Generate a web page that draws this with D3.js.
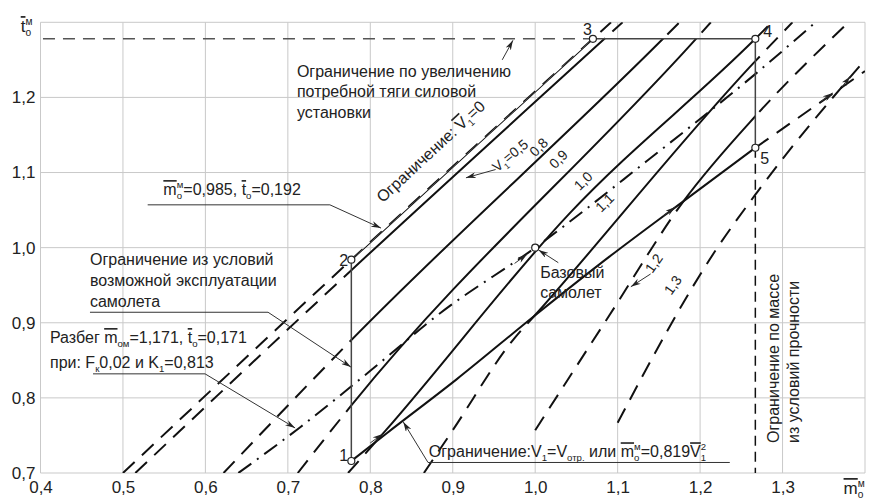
<!DOCTYPE html>
<html>
<head>
<meta charset="utf-8">
<script src="https://cdn.jsdelivr.net/npm/d3@7/dist/d3.min.js"></script>
<style>
  body { margin: 0; background: #fff; }
  svg { display: block; font-family: "Liberation Sans", Arial, sans-serif; }
</style>
</head>
<body>
<div id="chart"></div>
<script>
var xTicks = [0.4, 0.5, 0.6, 0.7, 0.8, 0.9, 1.0, 1.1, 1.2, 1.3]
var yTicks = [0.7, 0.8, 0.9, 1.0, 1.1, 1.2]

// lines V1 = const, points (m, t)
var v1Names = ["0", "0,5", "0,8", "0,9", "1,0", "1,1", "1,2", "1,3"]
var v1Lines = [
  [[0.5, 0.7], [0.777, 0.984], [1.07, 1.278], [1.092, 1.3]],
  [[0.515, 0.7], [0.777, 0.97], [1.084, 1.278], [1.106, 1.3]],
  [[0.622, 0.7], [0.777, 0.877], [1.155, 1.278], [1.175, 1.3]],
  [[0.712, 0.7], [0.777, 0.79], [1.195, 1.278], [1.213, 1.3]],
  [[0.773, 0.7], [0.819, 0.757], [1.042, 1.046], [1.267, 1.278], [1.287, 1.3]],
  [[0.865, 0.7], [0.9, 0.757], [0.973, 0.877], [1.003, 0.914], [1.265, 1.246], [1.312, 1.3]],
  [[1.0, 0.757], [1.09, 0.91], [1.18, 1.062], [1.267, 1.175], [1.38, 1.3]],
  [[1.1, 0.767], [1.221, 1.0], [1.27, 1.075], [1.4, 1.25]]
]

// limit V1 = Vотр, and its dashed continuation past point 5
var limitCurve = [[0.777, 0.716], [0.82, 0.753], [0.905, 0.825], [1.0, 0.91], [1.09, 0.988], [1.18, 1.062], [1.267, 1.133]]
var limitTail = [[1.267, 1.133], [1.4, 1.235]]
// base aircraft line (dash-dot)
var baseCurve = [[0.64, 0.7], [0.715, 0.761], [0.8, 0.836], [0.885, 0.913], [1.0, 1.0], [1.135, 1.115], [1.269, 1.233], [1.34, 1.3]]

var pointNames = ["1", "2", "3", "4", "5"]
var pointM = [0.777, 0.777, 1.07, 1.267, 1.267]
var pointT = [0.716, 0.984, 1.278, 1.278, 1.133]
var tLimit = 1.278
var basePoint = [1.0, 1.0]

var width = 869, height = 500

var x = d3.scaleLinear().domain([0.4, 1.4]).range([40.5, 865])
var y = d3.scaleLinear().domain([0.7, 1.3]).range([473, 22.3])

var svg = d3.select("#chart").append("svg")
  .attr("width", width).attr("height", height)

var defs = svg.append("defs")
defs.append("marker")
  .attr("id", "arr")
  .attr("viewBox", "0 0 10 6")
  .attr("refX", 10).attr("refY", 3)
  .attr("markerWidth", 10).attr("markerHeight", 6)
  .attr("markerUnits", "userSpaceOnUse")
  .attr("orient", "auto")
  .append("path").attr("d", "M0,0 L10,3 L0,6 L3,3 z").attr("fill", "#222")

var line = d3.line().x(function(d) { return x(d[0]) }).y(function(d) { return y(d[1]) })
var smooth = d3.line().curve(d3.curveMonotoneX).x(function(d) { return x(d[0]) }).y(function(d) { return y(d[1]) })

// feasible region: 1-2-3-4-5 and back along the limit curve
var region = [[pointM[0], pointT[0]], [pointM[1], pointT[1]], [pointM[2], pointT[2]], [pointM[3], pointT[3]], [pointM[4], pointT[4]]]
  .concat(limitCurve.slice().reverse())
var regionPath = line(region) + "Z"

defs.append("clipPath").attr("id", "inside").append("path").attr("d", regionPath)
defs.append("clipPath").attr("id", "outside").append("path")
  .attr("clip-rule", "evenodd")
  .attr("d", "M" + x(0.4) + "," + y(1.3) + "H" + x(1.4) + "V" + y(0.7) + "H" + x(0.4) + "Z" + regionPath)
defs.append("clipPath").attr("id", "plot").append("rect")
  .attr("x", x(0.4)).attr("y", y(1.3)).attr("width", x(1.4) - x(0.4)).attr("height", y(0.7) - y(1.3))

/* ------- GRID -------*/
var grid = svg.append("g").attr("stroke", "#c9c9c9").attr("stroke-width", 1)
grid.selectAll("line.v").data(xTicks.concat([1.4])).enter().append("line")
  .attr("x1", function(d) { return x(d) }).attr("x2", function(d) { return x(d) })
  .attr("y1", y(0.7)).attr("y2", y(1.3))
grid.selectAll("line.h").data(yTicks.concat([1.3])).enter().append("line")
  .attr("x1", x(0.4)).attr("x2", x(1.4))
  .attr("y1", function(d) { return y(d) }).attr("y2", function(d) { return y(d) })

/* ------- AXES -------*/
var fmt = function(d) { return d3.format(".1f")(d).replace(".", ",") }
svg.append("g").attr("transform", "translate(0," + y(0.7) + ")")
  .call(d3.axisBottom(x).tickValues(xTicks).tickSize(0).tickPadding(8).tickFormat(fmt))
svg.append("g").attr("transform", "translate(" + x(0.4) + ",0)")
  .call(d3.axisLeft(y).tickValues(yTicks).tickSize(0).tickPadding(5).tickFormat(fmt))
svg.selectAll(".domain").remove()
svg.selectAll(".tick text").attr("font-size", 17).attr("fill", "#222")
  .attr("font-family", "Liberation Sans, Arial, sans-serif")

/* ------- CURVES -------*/
var curves = svg.append("g").attr("fill", "none").attr("stroke", "#111").attr("stroke-width", 2)

curves.selectAll("path.dash").data(v1Lines).enter().append("path")
  .attr("d", smooth)
  .attr("clip-path", "url(#outside)")
  .attr("stroke-dasharray", "16,10")

curves.selectAll("path.solid").data(v1Lines).enter().append("path")
  .attr("d", smooth)
  .attr("clip-path", "url(#inside)")

curves.append("path").attr("d", smooth(limitCurve))
curves.append("path").attr("d", line(limitTail)).attr("stroke-dasharray", "16,10").attr("clip-path", "url(#plot)")
curves.append("path").attr("d", smooth(baseCurve))
  .attr("stroke-dasharray", "16,7,2,7").attr("clip-path", "url(#plot)")

// frame of the feasible zone
var frame = svg.append("g").attr("fill", "none").attr("stroke", "#444").attr("stroke-width", 1.5)
frame.append("path").attr("d", line([[pointM[0], pointT[0]], [pointM[1], pointT[1]]]))
frame.append("path").attr("d", line([[pointM[2], pointT[2]], [pointM[3], pointT[3]], [pointM[4], pointT[4]]]))
frame.append("path").attr("d", line([[pointM[4], pointT[4]], [pointM[4], 0.7]]))
  .attr("stroke", "#111").attr("stroke-dasharray", "10,6")
frame.append("path").attr("d", line([[0.403, tLimit], [pointM[2], tLimit]]))
  .attr("stroke", "#555").attr("stroke-dasharray", "12,8")

/* ------- POINTS -------*/
svg.append("g").selectAll("circle")
  .data(pointM.map(function(m, i) { return [m, pointT[i]] }).concat([basePoint]))
  .enter().append("circle")
  .attr("cx", function(d) { return x(d[0]) }).attr("cy", function(d) { return y(d[1]) })
  .attr("r", 3.5).attr("fill", "#fff").attr("stroke", "#222").attr("stroke-width", 1.2)

var pointOffsets = [[-12, 0], [-12, 6], [-10, -4], [8, -2], [5, 16]]
svg.append("g").selectAll("text").data(pointNames).enter().append("text")
  .attr("x", function(d, i) { return x(pointM[i]) + pointOffsets[i][0] })
  .attr("y", function(d, i) { return y(pointT[i]) + pointOffsets[i][1] })
  .attr("font-size", 16).attr("fill", "#222")
  .text(function(d) { return d })

/* ------- RICH TEXT -------*/
// parts: [text, kind] with kind "", "over", "sub", "sup" or "sup2" (sup stacked over the previous sub)
function rich(g, parts, size) {
  var t = g.append("text").attr("font-size", size).attr("fill", "#222")
  var shift = 0, lastSub = 0
  parts.forEach(function(p) {
    var kind = p[1] || ""
    var small = kind === "sub" || kind === "sup" || kind === "sup2"
    var target = kind === "sub" ? 4 : small ? -7 : 0
    var ts = t.append("tspan").text(p[0]).attr("dy", target - shift)
    shift = target
    if (small) ts.attr("font-size", size * 0.6)
    if (kind === "sup2") ts.attr("dx", -lastSub)
    if (kind === "sub") lastSub = p[0].length * size * 0.6 * 0.55
    if (kind === "over") ts.style("text-decoration", "overline")
  })
  return t
}

function note(mx, ty, parts, size, rot) {
  var g = svg.append("g").attr("transform", "translate(" + x(mx) + "," + y(ty) + ")" + (rot ? " rotate(" + rot + ")" : ""))
  rich(g, parts, size || 16)
  return g
}

function leader(pts, arrow) {
  var p = svg.append("path").attr("d", line(pts)).attr("fill", "none")
    .attr("stroke", "#333").attr("stroke-width", 1)
  if (arrow) p.attr("marker-end", "url(#arr)")
}

function lineAngle(l) {
  var a = l[0], b = l[l.length - 1]
  return Math.atan2(y(b[1]) - y(a[1]), x(b[0]) - x(a[0])) * 180 / Math.PI
}

// direction arrows sitting on the curves
var arrowMarks = [
  [[0.8, 0.74], [0.815, 0.752]],
  [[1.155, 1.042], [1.17, 1.054]],
  [[0.975, 0.979], [0.99, 0.991]],
  [[1.346, 1.194], [1.361, 1.206]],
  [[1.372, 1.214], [1.382, 1.228]]
]
arrowMarks.forEach(function(a) { leader(a, true) })

// axis titles
note(0.376, 1.287, [["t", "over"], ["о", "sub"], ["м", "sup2"]], 17)
note(1.374, 0.672, [["m", "over"], ["о", "sub"], ["м", "sup2"]], 17)

// thrust limit
note(0.711, 1.227, [["Ограничение по увеличению"]])
note(0.711, 1.2, [["потребной тяги силовой"]])
note(0.711, 1.173, [["установки"]])
leader([[0.96, 1.25], [0.973, 1.276]], true)

// point 2 data
note(0.549, 1.07, [["m", "over"], ["о", "sub"], ["м", "sup2"], ["=0,985, "], ["t", "over"], ["о", "sub"], ["=0,192"]])
leader([[0.53, 1.057], [0.751, 1.057], [0.813, 1.026]], true)

// operation limit
note(0.46, 0.977, [["Ограничение из условий"]])
note(0.46, 0.949, [["возможной эксплуатации"]])
note(0.46, 0.921, [["самолета"]])
leader([[0.46, 0.914], [0.676, 0.914], [0.7765, 0.841]], true)

// take-off run
note(0.4115, 0.873, [["Разбег "], ["m", "over"], ["ом", "sub"], ["=1,171, "], ["t", "over"], ["о", "sub"], ["=0,171"]])
note(0.4115, 0.84, [["при: F"], ["к", "sub"], ["0,02 и K"], ["1", "sub"], ["=0,813"]])
leader([[0.4637, 0.832], [0.5996, 0.832], [0.7088, 0.76]], true)

// V1 labels along the lines
var a0 = lineAngle(v1Lines[0])
note(0.815, 1.059, [["Ограничение: "], ["V", "over"], ["1", "sub"], ["=0"]], 16, a0)
note(0.954, 1.1, [["V"], ["1", "sub"], ["=0,5"]], 14, a0 + 3)
leader([[0.952, 1.104], [0.916, 1.093]], true)
var v1Pos = [null, null, [1.0, 1.12], [1.024, 1.104], [1.054, 1.075], [1.08, 1.046], [1.142, 0.965], [1.165, 0.936]]
v1Pos.forEach(function(p, i) {
  if (!p) return
  note(p[0], p[1], [[v1Names[i]]], 14, i < 6 ? -45 : -55)
})
leader([[1.14, 0.965], [1.116, 0.948]], true)

// base aircraft
note(1.006, 0.96, [["Базовый"]])
note(1.006, 0.933, [["самолет"]])
leader([[1.028, 0.98], [1.004, 0.997]], true)

// V1 = Vотр
note(0.871, 0.721, [["Ограничение:V"], ["1", "sub"], ["=V"], ["отр.", "sub"], [" или "], ["m", "over"], ["о", "sub"], ["м", "sup2"], ["=0,819"], ["V", "over"], ["1", "sub"], ["2", "sup2"]])
leader([[0.87, 0.714], [1.236, 0.714]], false)
leader([[0.87, 0.714], [0.84, 0.768]], true)

// mass limit, vertical text
note(1.296, 0.74, [["Ограничение по массе"]], 16, -90)
note(1.32, 0.74, [["из условий прочности"]], 16, -90)
</script>
</body>
</html>
